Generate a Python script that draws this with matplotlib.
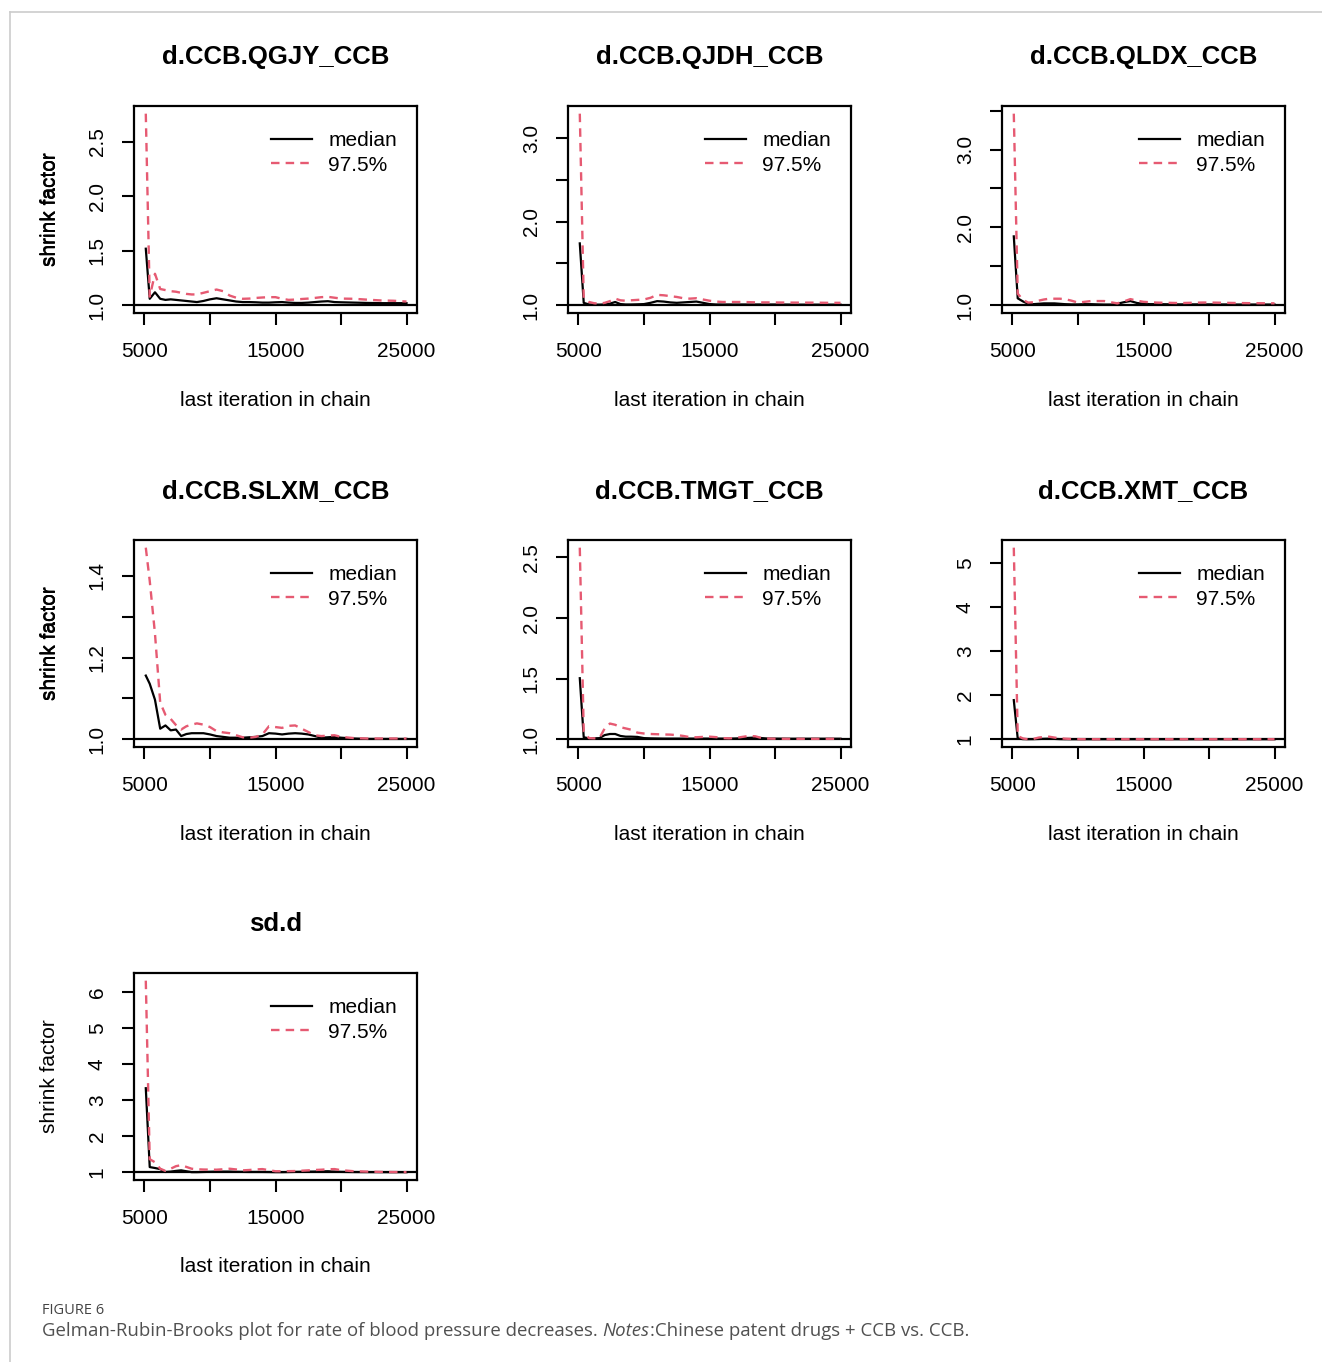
import matplotlib
matplotlib.use('Agg')
import matplotlib.pyplot as plt
from matplotlib.lines import Line2D

plt.rcParams['font.family'] = ['Liberation Sans', 'DejaVu Sans']

# last iteration in chain (shared by all panels)
iters = [5100, 5400, 5800, 6200, 6600, 7000, 7400, 7800, 8200, 8600, 9000,
         9500, 10000, 10500, 11000, 11500, 12000, 12500, 13000, 13500, 14000,
         14500, 15000, 15500, 16000, 16500, 17000, 17500, 18000, 18500, 19000,
         19500, 20000, 21000, 22000, 23000, 24000, 25000]

titles = ['d.CCB.QGJY_CCB', 'd.CCB.QJDH_CCB', 'd.CCB.QLDX_CCB',
          'd.CCB.SLXM_CCB', 'd.CCB.TMGT_CCB', 'd.CCB.XMT_CCB', 'sd.d']

med_qgjy = [1.52, 1.06, 1.12, 1.06, 1.05, 1.055, 1.05, 1.045, 1.04, 1.035, 1.03,
            1.04, 1.055, 1.065, 1.055, 1.045, 1.035, 1.03, 1.03, 1.028, 1.025,
            1.025, 1.028, 1.03, 1.025, 1.022, 1.022, 1.025, 1.03, 1.035, 1.038,
            1.03, 1.028, 1.025, 1.022, 1.02, 1.02, 1.02]
upp_qgjy = [2.76, 1.08, 1.29, 1.15, 1.14, 1.13, 1.125, 1.115, 1.105, 1.10, 1.10,
            1.115, 1.13, 1.145, 1.13, 1.09, 1.07, 1.06, 1.062, 1.068, 1.072,
            1.075, 1.075, 1.06, 1.05, 1.053, 1.058, 1.062, 1.068, 1.075, 1.078,
            1.07, 1.062, 1.06, 1.052, 1.045, 1.042, 1.035]

med_qjdh = [1.74, 1.03, 1.01, 1.008, 1.008, 1.01, 1.02, 1.04, 1.015, 1.01, 1.01,
            1.012, 1.015, 1.03, 1.05, 1.045, 1.035, 1.03, 1.035, 1.04, 1.045,
            1.03, 1.015, 1.01, 1.01, 1.01, 1.01, 1.01, 1.01, 1.01, 1.01,
            1.01, 1.01, 1.009, 1.008, 1.008, 1.008, 1.008]
upp_qjdh = [3.29, 1.087, 1.04, 1.025, 1.02, 1.03, 1.05, 1.08, 1.06, 1.055, 1.06,
            1.065, 1.07, 1.09, 1.125, 1.12, 1.11, 1.10, 1.085, 1.08, 1.085,
            1.07, 1.055, 1.045, 1.04, 1.04, 1.04, 1.04, 1.038, 1.036, 1.035,
            1.035, 1.034, 1.033, 1.032, 1.032, 1.03, 1.03]

med_qldx = [1.885, 1.09, 1.05, 1.02, 1.015, 1.02, 1.025, 1.025, 1.025, 1.02, 1.015,
            1.012, 1.012, 1.015, 1.015, 1.012, 1.01, 1.01, 1.02, 1.04, 1.055,
            1.03, 1.02, 1.015, 1.015, 1.014, 1.013, 1.012, 1.012, 1.012, 1.012,
            1.012, 1.012, 1.011, 1.01, 1.01, 1.01, 1.01]
upp_qldx = [3.46, 1.15, 1.07, 1.035, 1.04, 1.06, 1.075, 1.085, 1.085, 1.085, 1.08,
            1.06, 1.035, 1.045, 1.055, 1.055, 1.055, 1.04, 1.025, 1.05, 1.08,
            1.06, 1.045, 1.04, 1.035, 1.033, 1.032, 1.03, 1.03, 1.032, 1.034,
            1.036, 1.036, 1.033, 1.03, 1.028, 1.027, 1.026]

med_slxm = [1.156, 1.136, 1.097, 1.026, 1.034, 1.022, 1.024, 1.008, 1.013, 1.015, 1.015,
            1.015, 1.012, 1.008, 1.006, 1.004, 1.004, 1.004, 1.005, 1.006, 1.008,
            1.015, 1.014, 1.012, 1.014, 1.015, 1.014, 1.012, 1.008, 1.004, 1.005,
            1.006, 1.004, 1.002, 1.001, 1.001, 1.001, 1.001]
upp_slxm = [1.469, 1.388, 1.259, 1.09, 1.06, 1.05, 1.035, 1.024, 1.032, 1.036, 1.039,
            1.036, 1.03, 1.02, 1.017, 1.015, 1.01, 1.005, 1.004, 1.006, 1.012,
            1.032, 1.03, 1.028, 1.033, 1.034, 1.026, 1.018, 1.01, 1.008, 1.009,
            1.01, 1.006, 1.003, 1.002, 1.002, 1.002, 1.002]

med_tmgt = [1.504, 1.017, 1.008, 1.008, 1.01, 1.035, 1.044, 1.044, 1.028, 1.022, 1.022,
            1.02, 1.01, 1.008, 1.007, 1.006, 1.006, 1.006, 1.006, 1.006, 1.006,
            1.006, 1.006, 1.006, 1.006, 1.006, 1.007, 1.009, 1.012, 1.015, 1.01,
            1.006, 1.006, 1.005, 1.005, 1.005, 1.005, 1.005]
upp_tmgt = [2.58, 1.063, 1.01, 1.008, 1.01, 1.09, 1.13, 1.12, 1.10, 1.09, 1.08,
            1.055, 1.048, 1.044, 1.042, 1.04, 1.039, 1.035, 1.028, 1.018, 1.017,
            1.02, 1.022, 1.018, 1.01, 1.008, 1.012, 1.02, 1.028, 1.025, 1.01,
            1.006, 1.005, 1.004, 1.004, 1.004, 1.004, 1.004]

med_xmt = [1.89, 1.02, 1.005, 1.003, 1.004, 1.008, 1.012, 1.015, 1.01, 1.005, 1.003,
           1.002, 1.002, 1.002, 1.002, 1.002, 1.002, 1.002, 1.002, 1.002, 1.002,
           1.002, 1.002, 1.002, 1.002, 1.002, 1.002, 1.002, 1.002, 1.002, 1.002,
           1.002, 1.002, 1.002, 1.002, 1.002, 1.002, 1.002]
upp_xmt = [5.35, 1.075, 1.02, 1.0, 1.01, 1.04, 1.055, 1.06, 1.04, 1.025, 1.015,
           1.008, 1.005, 1.003, 1.003, 1.003, 1.003, 1.003, 1.003, 1.003, 1.003,
           1.003, 1.003, 1.003, 1.003, 1.003, 1.003, 1.003, 1.003, 1.003, 1.003,
           1.003, 1.003, 1.003, 1.003, 1.003, 1.003, 1.003]

med_sdd = [3.335, 1.146, 1.12, 1.09, 1.01, 1.02, 1.04, 1.055, 1.03, 1.005, 1.005,
           1.01, 1.015, 1.02, 1.02, 1.02, 1.015, 1.012, 1.01, 1.01, 1.01,
           1.008, 1.005, 1.005, 1.008, 1.012, 1.015, 1.018, 1.02, 1.025, 1.03,
           1.02, 1.012, 1.008, 1.006, 1.005, 1.004, 1.004]
upp_sdd = [6.32, 1.365, 1.28, 1.10, 1.04, 1.10, 1.17, 1.20, 1.15, 1.10, 1.085,
           1.078, 1.075, 1.073, 1.085, 1.10, 1.08, 1.055, 1.065, 1.08, 1.09,
           1.06, 1.03, 1.03, 1.033, 1.036, 1.045, 1.055, 1.065, 1.073, 1.085,
           1.09, 1.06, 1.03, 1.02, 1.012, 1.008, 1.005]

medians = [med_qgjy, med_qjdh, med_qldx, med_slxm, med_tmgt, med_xmt, med_sdd]
uppers = [upp_qgjy, upp_qjdh, upp_qldx, upp_slxm, upp_tmgt, upp_xmt, upp_sdd]

xticks = [5000, 10000, 15000, 20000, 25000]
xticklabels = ['5000', '', '15000', '', '25000']

yticks = [[1.0, 1.5, 2.0, 2.5],
          [1.0, 1.5, 2.0, 2.5, 3.0],
          [1.0, 1.5, 2.0, 2.5, 3.0, 3.5],
          [1.0, 1.1, 1.2, 1.3, 1.4],
          [1.0, 1.5, 2.0, 2.5],
          [1, 2, 3, 4, 5],
          [1, 2, 3, 4, 5, 6]]
yticklabels = [['1.0', '1.5', '2.0', '2.5'],
               ['1.0', '', '2.0', '', '3.0'],
               ['1.0', '', '2.0', '', '3.0', ''],
               ['1.0', '', '1.2', '', '1.4'],
               ['1.0', '1.5', '2.0', '2.5'],
               ['1', '2', '3', '4', '5'],
               ['1', '2', '3', '4', '5', '6']]

RED = '#E65A72'
W, H = 1322, 1362
fig = plt.figure(figsize=(W / 100, H / 100), dpi=100)

# light card border (top and left)
fig.add_artist(Line2D([10 / W, 1], [1 - 12 / H, 1 - 12 / H], color='#cccccc', lw=1.2))
fig.add_artist(Line2D([10 / W, 10 / W], [0, 1 - 12 / H], color='#cccccc', lw=1.2))

col_left = [134, 568, 1002]
row_top = [106, 540, 973]
bw, bh = 283, 207

for i in range(7):
    r, c = divmod(i, 3)
    x0, y0 = col_left[c], row_top[r]
    ax = fig.add_axes([x0 / W, 1 - (y0 + bh) / H, bw / W, bh / H])
    med, upp = medians[i], uppers[i]
    ax.axhline(1, color='black', lw=1.6, zorder=1)
    ax.plot(iters, med, color='black', lw=1.6, label='median')
    ax.plot(iters, upp, color=RED, lw=1.7, ls=(0, (3.6, 2.6)), label='97.5%')
    lo = min(min(med), min(upp), 1.0)
    hi = max(max(med), max(upp))
    pad = 0.04 * (hi - lo)
    ax.set_ylim(lo - pad, hi + pad)
    ax.set_xlim(4200, 25800)
    ax.set_xticks(xticks)
    ax.set_xticklabels(xticklabels)
    ax.set_yticks(yticks[i])
    ax.set_yticklabels(yticklabels[i], rotation=90, va='center')
    ax.tick_params(axis='both', direction='out', length=8.6, width=1.5,
                   labelsize=15, pad=11)
    ax.tick_params(axis='x', pad=12)
    for s in ax.spines.values():
        s.set_linewidth(1.6)
    ax.text(0.5, 1 + 49 / bh, titles[i], transform=ax.transAxes, ha='center',
            va='center', fontsize=18.5, fontweight='bold')
    ax.text(0.5, -87 / bh, 'last iteration in chain', transform=ax.transAxes,
            ha='center', va='center', fontsize=15)
    ax.text(-(x0 - 50) / bw, 0.5, 'shrink factor', transform=ax.transAxes,
            ha='center', va='center', rotation=90, fontsize=15)
    ax.legend(loc='upper right', bbox_to_anchor=(263 / bw, 182 / bh),
              frameon=False, fontsize=15, handlelength=1.95, handletextpad=0.8,
              labelspacing=0.27, borderpad=0, borderaxespad=0)

cap_font = ['Open Sans', 'DejaVu Sans']
fig.text(42 / W, 1 - 1311 / H, 'FIGURE 6', fontsize=10.5, color='#444444',
         family=cap_font, va='center', ha='left')
t1 = fig.text(42 / W, 1 - 1331 / H,
              'Gelman-Rubin-Brooks plot for rate of blood pressure decreases. ',
              fontsize=13.4, color='#505050', family=cap_font,
              va='center', ha='left')
t2 = plt.annotate('Notes', xy=(1, 0), xycoords=t1, va='bottom', ha='left',
                  fontsize=13.4, color='#505050', style='italic', family=cap_font)
plt.annotate(':Chinese patent drugs + CCB vs. CCB.', xy=(1, 0), xycoords=t2,
             va='bottom', ha='left', fontsize=13.4, color='#505050', family=cap_font)

fig.savefig('out.png', dpi=100)
